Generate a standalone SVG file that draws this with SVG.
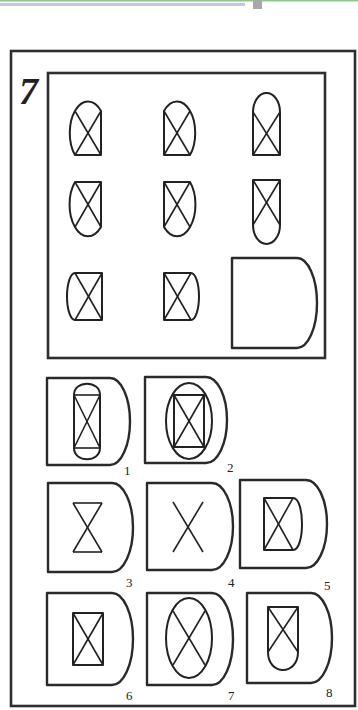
<svg xmlns="http://www.w3.org/2000/svg" width="358" height="710" viewBox="0 0 358 710">
<style>
.frame{fill:none;stroke:#2e2e2e;stroke-width:2.6}
.d{fill:none;stroke:#2a2a2a;stroke-width:2.4;stroke-linejoin:round}
.f{fill:none;stroke:#222;stroke-width:2;stroke-linejoin:round}
.x{stroke:#222;stroke-width:1.6}
.lbl{font-family:"Liberation Serif",serif;font-size:13px;fill:#222}
</style>
<rect width="358" height="710" fill="#fff"/>
<g id="topstrip">
<rect x="0" y="0" width="358" height="1.5" fill="#8cc88c"/>
<rect x="0" y="3" width="245" height="3" fill="#c4c4ee"/>
<rect x="253" y="0" width="9" height="9" fill="#a8a8a8"/>
</g>
<g id="outer-frame">
<rect class="frame" x="11" y="51" width="344" height="655"/>
<text x="19" y="104" font-family="Liberation Serif,serif" font-size="38" font-weight="bold" font-style="italic" fill="#222">7</text>
</g>
<g id="matrix">
<rect class="frame" x="48" y="73" width="277" height="285"/>
<!-- row 1 -->
<g id="m11"><path class="f" d="M75,155 H101 V111 A18,31 0 1 0 75,155 Z"/><line class="x" x1="75" y1="111" x2="101" y2="155"/><line class="x" x1="101" y1="111" x2="75" y2="155"/></g>
<g id="m12"><path class="f" d="M164,111 V155 H190 A18,31 0 1 0 164,111 Z"/><line class="x" x1="164" y1="111" x2="190" y2="155"/><line class="x" x1="190" y1="111" x2="164" y2="155"/></g>
<g id="m13"><path class="f" d="M253,155 V112 A13.5,19 0 0 1 280,112 V155 Z"/><line class="x" x1="253" y1="112" x2="280" y2="155"/><line class="x" x1="280" y1="112" x2="253" y2="155"/></g>
<!-- row 2 -->
<g id="m21"><path class="f" d="M75,182 H101 V227 A18,31 0 1 1 75,182 Z"/><line class="x" x1="75" y1="182" x2="101" y2="227"/><line class="x" x1="101" y1="182" x2="75" y2="227"/></g>
<g id="m22"><path class="f" d="M164,182 H190 A18,31 0 1 1 164,227 Z"/><line class="x" x1="164" y1="182" x2="190" y2="227"/><line class="x" x1="190" y1="182" x2="164" y2="227"/></g>
<g id="m23"><path class="f" d="M253,180 H280 V225 A13.5,19 0 0 1 253,225 Z"/><line class="x" x1="253" y1="180" x2="280" y2="225"/><line class="x" x1="280" y1="180" x2="253" y2="225"/></g>
<!-- row 3 -->
<g id="m31"><path class="f" d="M75,273 H102 V320 H75 A8,23.5 0 0 1 75,273 Z"/><line class="x" x1="75" y1="273" x2="102" y2="320"/><line class="x" x1="102" y1="273" x2="75" y2="320"/></g>
<g id="m32"><path class="f" d="M164,273 H191 A8,23.5 0 0 1 191,320 H164 Z"/><line class="x" x1="164" y1="273" x2="191" y2="320"/><line class="x" x1="191" y1="273" x2="164" y2="320"/></g>
<g id="m33"><path class="d" d="M232,258 H297 A20,45 0 0 1 297,348 H232 Z"/></g>
</g>
<g id="opt1">
<path class="d" d="M47,378 H110 A20,43.5 0 0 1 110,465 H47 Z"/>
<path class="f" d="M74,395 C74,380 100,380 100,395 V448 C100,463 74,463 74,448 Z"/>
<line class="x" x1="74" y1="395" x2="100" y2="395"/><line class="x" x1="74" y1="448" x2="100" y2="448"/>
<line class="x" x1="74" y1="395" x2="100" y2="448"/><line class="x" x1="100" y1="395" x2="74" y2="448"/>
<text class="lbl" x="124" y="475">1</text>
</g>
<g id="opt2">
<path class="d" d="M145,377 H206 A21,43 0 0 1 206,463 H145 Z"/>
<ellipse class="f" cx="189" cy="421" rx="23" ry="38"/>
<rect class="f" x="174" y="395" width="30" height="52" stroke-width="1.6"/>
<line class="x" x1="174" y1="395" x2="204" y2="447"/><line class="x" x1="204" y1="395" x2="174" y2="447"/>
<text class="lbl" x="227" y="472">2</text>
</g>
<g id="opt3">
<path class="d" d="M48,483 H112 A21,44.5 0 0 1 112,572 H48 Z"/>
<line class="x" x1="73" y1="503" x2="102" y2="503" stroke-width="2"/><line class="x" x1="73" y1="552" x2="102" y2="552" stroke-width="2"/>
<line class="x" x1="73" y1="503" x2="102" y2="552"/><line class="x" x1="102" y1="503" x2="73" y2="552"/>
<text class="lbl" x="126" y="587">3</text>
</g>
<g id="opt4">
<path class="d" d="M147,483 H212 A21,43.5 0 0 1 212,570 H147 Z"/>
<line class="x" x1="173" y1="502" x2="203" y2="552"/><line class="x" x1="203" y1="502" x2="173" y2="552"/>
<text class="lbl" x="228" y="587">4</text>
</g>
<g id="opt5">
<path class="d" d="M240,480 H306 A21,44 0 0 1 306,568 H240 Z"/>
<path class="f" d="M264,498 H293 C305,498 305,550 293,550 H264 Z"/>
<line class="x" x1="264" y1="498" x2="293" y2="550"/><line class="x" x1="293" y1="498" x2="264" y2="550"/>
<text class="lbl" x="324" y="590">5</text>
</g>
<g id="opt6">
<path class="d" d="M47,593 H112 A21,46 0 0 1 112,685 H47 Z"/>
<rect class="f" x="73" y="613" width="30" height="52"/>
<line class="x" x1="73" y1="613" x2="103" y2="665"/><line class="x" x1="103" y1="613" x2="73" y2="665"/>
<text class="lbl" x="126" y="700">6</text>
</g>
<g id="opt7">
<path class="d" d="M147,593 H212 A21,46 0 0 1 212,685 H147 Z"/>
<ellipse class="f" cx="189" cy="638" rx="23" ry="40"/>
<line class="x" x1="173" y1="611" x2="205" y2="665"/><line class="x" x1="205" y1="611" x2="173" y2="665"/>
<text class="lbl" x="228" y="700">7</text>
</g>
<g id="opt8">
<path class="d" d="M247,593 H311 A21,45 0 0 1 311,683 H247 Z"/>
<path class="f" d="M268,607 H298 V652 C298,676 268,676 268,652 Z"/>
<line class="x" x1="268" y1="607" x2="298" y2="652"/><line class="x" x1="298" y1="607" x2="268" y2="652"/>
<text class="lbl" x="326" y="697">8</text>
</g>
</svg>
